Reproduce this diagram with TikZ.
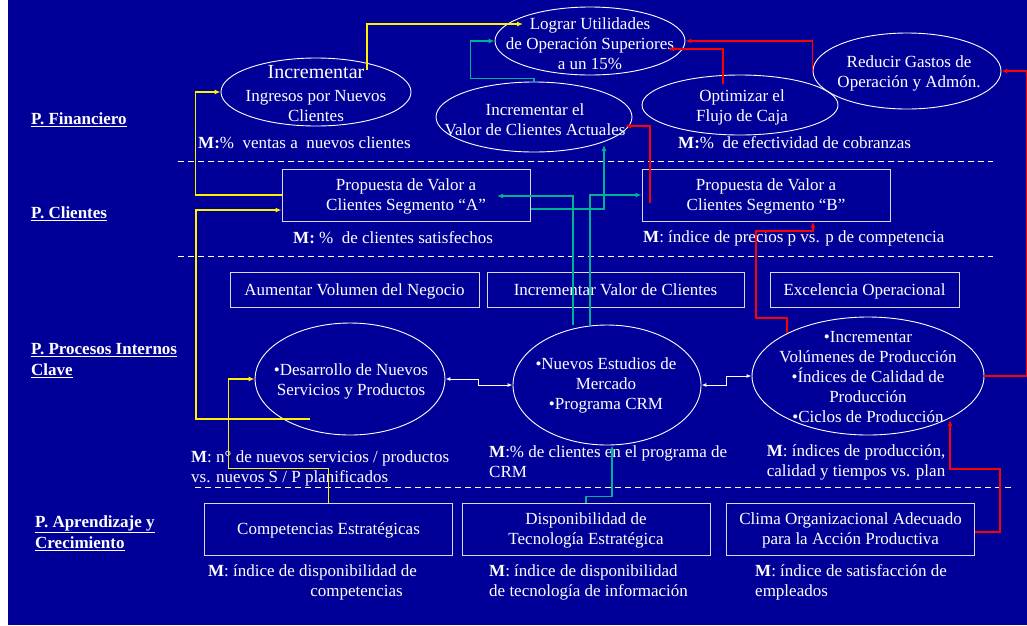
\documentclass[tikz,border=0pt]{standalone}
\usepackage{fontspec}
\setmainfont{Liberation Serif}
\usetikzlibrary{shapes.geometric,arrows.meta}
\definecolor{bsc}{RGB}{0,0,153}
\definecolor{tealbsc}{RGB}{0,178,148}

\begin{document}
\begin{tikzpicture}[x=1pt, y=-1pt,
	every node/.style={text=white, font=\fontsize{17}{20}\selectfont, inner sep=0},
	goal/.style={ellipse, draw=white, line width=0.9pt},
	box/.style={draw=white!85!bsc, line width=1pt, align=center, text depth=0pt, minimum width=248pt, minimum height=52pt},
	wide/.style={box, minimum height=35pt},
	lane/.style={anchor=west, align=left, font=\fontsize{17}{21}\selectfont\bfseries},
	mtxt/.style={anchor=west, align=left},
	sep/.style={white, line width=0.8pt, dash pattern=on 6pt off 4pt},
	yl/.style={yellow, line width=1.5pt, -{Latex[length=6pt, width=5pt]}},
	gr/.style={tealbsc, line width=1.5pt, -{Latex[length=6pt, width=5pt]}},
	rd/.style={red, line width=1.5pt, -{Latex[length=6pt, width=5pt]}},
	wt/.style={white, line width=1pt, {Latex[length=5pt, width=4pt]}-{Latex[length=5pt, width=4pt]}}]
	\useasboundingbox (0,0) rectangle (1027,625);
	\fill[white] (0,0) rectangle (1027,625);
	\fill[bsc] (8,0) rectangle (1027,625);
	\draw[sep] (178,161) -- (993,161);
	\draw[sep] (178,256) -- (993,256);
	\draw[sep] (195,487) -- (1012,487);

	\node[lane] (fin) at (31,120) {\underline{P. Financiero}};
	\node[lane] (cli) at (31,214) {\underline{P. Clientes}};
	\node[lane] (proc) at (31,361) {\underline{P. Procesos Internos}\\\underline{Clave}};
	\node[lane] (apr) at (35,533) {\underline{P. Aprendizaje y}\\\underline{Crecimiento}};

	\node[goal, minimum width=190pt, minimum height=68pt] (lograr) at (590,41) {};
	\node[goal, minimum width=190pt, minimum height=68pt] (ingresos) at (316,92) {};
	\node[goal, minimum width=196pt, minimum height=70pt] (valor) at (534,117) {};
	\node[goal, minimum width=196pt, minimum height=60pt] (flujo) at (740,105) {};
	\node[goal, minimum width=188pt, minimum height=76pt] (gastos) at (907,71) {};
	\node[goal, minimum width=190pt, minimum height=112pt] (desarrollo) at (350,379) {};
	\node[goal, minimum width=188pt, minimum height=120pt] (mercado) at (607,385) {};
	\node[goal, minimum width=232pt, minimum height=118pt] (produccion) at (868,376) {};

	\node[align=center] (logrartxt) at (590,44) {Lograr Utilidades\\de Operación Superiores\\a un 15\%};
	\node[align=center] (ingresostxt) at (316,94) {{\fontsize{20}{22}\selectfont Incrementar}\\[3pt]Ingresos por Nuevos\\Clientes};
	\node[align=center] (valortxt) at (535,120) {Incrementar el\\Valor de Clientes Actuales};
	\node[align=center] (flujotxt) at (742,107) {Optimizar el\\Flujo de Caja};
	\node[align=center] (gastostxt) at (909,73) {Reducir Gastos de\\Operación y Admón.};
	\node[align=center] (desarrollotxt) at (351,381) {•Desarrollo de Nuevos\\Servicios y Productos};
	\node[align=center] (mercadotxt) at (606,385) {•Nuevos Estudios de\\Mercado\\•Programa CRM};
	\node[align=center] (producciontxt) at (868,377) {•Incrementar\\Volúmenes de Producción\\•Índices de Calidad de\\Producción\\•Ciclos de Producción};

	\node[box] (propA) at (406,195) {Propuesta de Valor a\\Clientes Segmento “A”};
	\node[box] (propB) at (766,195) {Propuesta de Valor a\\Clientes Segmento “B”};
	\node[wide, minimum width=249pt] (volumen) at (354.5,289.5) {Aumentar Volumen del Negocio};
	\node[wide, minimum width=257pt] (valorcli) at (615.5,289.5) {Incrementar Valor de Clientes};
	\node[wide, minimum width=189pt] (excelencia) at (864.5,289.5) {Excelencia Operacional};
	\node[box] (competencias) at (328.5,529) {Competencias Estratégicas};
	\node[box] (tecnologia) at (586,529) {Disponibilidad de\\Tecnología Estratégica};
	\node[box] (clima) at (850.5,529) {Clima Organizacional Adecuado\\para la Acción Productiva};

	\node[mtxt] (m1) at (198,143) {\textbf{M:}\% \ ventas a \ nuevos clientes};
	\node[mtxt] (m2) at (678,143) {\textbf{M:}\% \ de efectividad de cobranzas};
	\node[mtxt] (m3) at (293,238) {\textbf{M:} \% \ de clientes satisfechos};
	\node[mtxt] (m4) at (643,238) {\textbf{M}: índice de precios p vs. p de competencia};
	\node[mtxt] (m5) at (191,468) {\textbf{M}: n° de nuevos servicios / productos\\vs. nuevos S / P planificados};
	\node[mtxt] (m6) at (489,462) {\textbf{M}:\% de clientes en el programa de\\CRM};
	\node[align=center] (m7) at (856,462) {\textbf{M}: índices de producción,\\calidad y tiempos vs. plan};
	\node[anchor=east, align=right] (m8) at (417,582) {\textbf{M}: índice de disponibilidad de\\competencias\hspace*{14pt}};
	\node[mtxt] (m9) at (489,582) {\textbf{M}: índice de disponibilidad\\de tecnología de información};
	\node[mtxt] (m10) at (755,582) {\textbf{M}: índice de satisfacción de\\empleados};

	\coordinate (y1a) at (367,70);
	\coordinate (y1b) at (523,24);
	\coordinate (y3a) at (310,419);
	\coordinate (g2b) at (497,196);
	\coordinate (g4b) at (604,145);
	\coordinate (r1a) at (650,203);
	\coordinate (r1b) at (625,126);
	\coordinate (r2a) at (723,84);
	\coordinate (r2b) at (668,49);
	\coordinate (r5b) at (950,420);
	\coordinate (r6a) at (787,333);

	\draw[yl] (y1a) |- (y1b);
	\draw[yl] (propA.west) -- ++(-86,0) |- (ingresos.west);
	\draw[yl] (y3a) -- ++(-114,0) |- ([yshift=-15pt]propA.west);
	\draw[yl] (competencias.north) -- ++(0,-34) -| ([xshift=-26pt]desarrollo.west) -- (desarrollo.west);

	\draw[gr] (valor.north) -- ++(0,-3) -| ([xshift=-24pt]lograr.west) -- (lograr.west);
	\draw[gr] ([xshift=-34pt]mercado.north) |- (g2b);
	\draw[gr] ([xshift=-17pt]mercado.north) |- (propB.west);
	\draw[gr] ([yshift=-14pt]propA.east) -| (g4b);
	\draw[gr] (tecnologia.north) -- ++(0,-6) -| ([xshift=5pt]mercado.south);

	\draw[wt] (desarrollo.east) -- ++(33,0) |- (mercado.west);
	\draw[wt] (mercado.east) -- ++(25,0) |- (produccion.west);

	\draw[rd] (r1a) |- (r1b);
	\draw[rd] (r2a) |- (r2b);
	\draw[rd] (gastos.west) |- (lograr.east);
	\draw[rd] (produccion.east) -- ++(42,0) |- (gastos.east);
	\draw[rd] ([yshift=-3pt]clima.east) -- ++(25,0) -- ++(0,-63) -| (r5b);
	\draw[rd] (r6a) -- ++(0,-15) -- ++(-31,0) -- ++(0,-87) -| ([xshift=47pt]propB.south);
\end{tikzpicture}
\end{document}
